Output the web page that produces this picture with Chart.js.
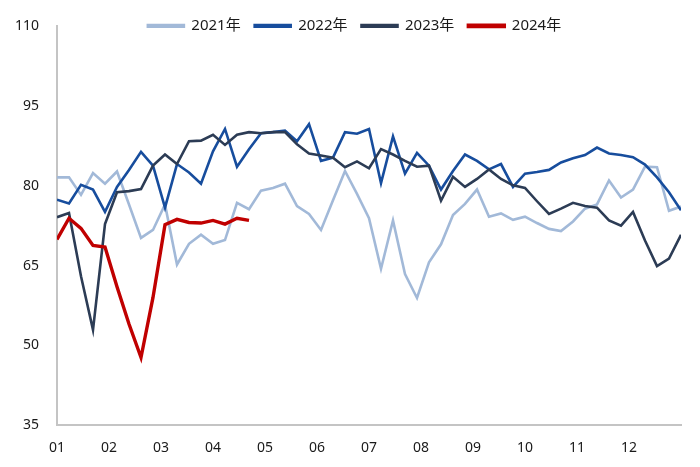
<!DOCTYPE html>
<html>
<head>
<meta charset="utf-8">
<script src="https://cdn.jsdelivr.net/npm/chart.js@4/dist/chart.umd.min.js"></script>
<style>
  html, body { margin: 0; padding: 0; background: #ffffff; }
  #wrap { width: 700px; height: 467px; }
</style>
</head>
<body>
<div id="wrap"><canvas id="c" width="700" height="467"></canvas></div>
<script>
// Month tick labels (x axis)
const monthLabels = ['01','02','03','04','05','06','07','08','09','10','11','12'];
// Series names
const seriesNames = ['2021年','2022年','2023年','2024年'];
// Weekly values (53 weeks)
const y2021 = [81.6,81.6,78.3,82.4,80.4,82.7,76.5,70.2,71.7,76.5,65.2,69.1,70.8,69.1,69.8,76.8,75.6,79.1,79.6,80.4,76.2,74.7,71.7,77.3,82.8,78.5,73.9,64.4,73.5,63.4,58.9,65.6,69.0,74.5,76.6,79.3,74.2,74.8,73.6,74.2,73.0,71.9,71.5,73.3,75.7,76.5,81.0,77.8,79.3,83.6,83.5,75.3,76.1];
const y2022 = [77.4,76.7,80.2,79.3,75.1,79.8,83.0,86.4,83.8,75.9,84.1,82.5,80.4,86.5,90.7,83.6,86.9,89.9,90.1,90.4,88.4,91.6,84.7,85.3,90.1,89.8,90.7,80.5,89.3,82.3,86.2,83.8,79.3,82.8,85.9,84.7,83.1,84.1,79.8,82.3,82.6,83.0,84.4,85.2,85.8,87.2,86.1,85.8,85.4,84.0,81.6,78.8,75.4];
const y2023 = [74.1,74.9,63.0,52.9,72.8,78.8,79.0,79.4,83.8,85.9,84.1,88.4,88.5,89.6,87.7,89.6,90.1,89.9,90.1,90.1,87.8,86.1,85.7,85.3,83.5,84.6,83.3,86.9,85.9,84.7,83.6,83.8,77.2,81.7,79.8,81.3,83.1,81.3,80.1,79.6,77.1,74.7,75.7,76.8,76.2,75.9,73.5,72.5,75.1,69.7,64.9,66.3,70.8];
const y2024 = [69.9,73.9,72.0,68.8,68.5,61.0,54.0,47.7,59.0,72.7,73.7,73.1,73.0,73.5,72.8,73.9,73.5];
// Y axis ticks
const yMin = 35, yMax = 110, yStep = 15;

const weeks = y2021.map((_, i) => i);
const nWeeks = weeks.length - 1;

const FONT = "'Noto Sans', 'Noto Sans CJK SC', sans-serif";

function ds(label, values, color, width, order) {
  return {
    label: label,
    data: values.map((v, i) => ({ x: weeks[i], y: v })),
    borderColor: color,
    backgroundColor: color,
    borderWidth: width,
    pointRadius: 0,
    pointHoverRadius: 0,
    tension: 0,
    fill: false,
    order: order,
    borderJoinStyle: 'miter'
  };
}

// Let the legend overlap the top of the plot area (as in the reference)
const legendOverlay = {
  id: 'legendOverlay',
  afterLayout(chart) {
    const lg = chart.legend;
    if (lg) {
      lg.top = lg.top - 2;
      lg.bottom = lg.top + 50;
      lg.height = 50;
      lg.left = lg.left + 14;
      lg.right = lg.right + 14;
    }
  }
};

new Chart(document.getElementById('c'), {
  type: 'line',
  data: {
    datasets: [
      ds(seriesNames[0], y2021, '#a2b9d8', 2.6, 3),
      ds(seriesNames[1], y2022, '#174d9d', 2.6, 2),
      ds(seriesNames[2], y2023, '#2c3c55', 2.6, 1),
      ds(seriesNames[3], y2024, '#c00000', 3.4, 0)
    ]
  },
  plugins: [legendOverlay],
  options: {
    responsive: false,
    animation: false,
    devicePixelRatio: 1,
    layout: { padding: { left: 0, right: 19, top: 0, bottom: 0 } },
    plugins: {
      tooltip: { enabled: false },
      legend: {
        display: true,
        position: 'top',
        align: 'center',
        maxHeight: 20,
        labels: {
          boxWidth: 36,
          boxHeight: 1.5,
          padding: 14,
          color: '#1a1a1a',
          font: { family: FONT, size: 15 },
          sort: (a, b) => a.datasetIndex - b.datasetIndex
        }
      }
    },
    scales: {
      x: {
        type: 'linear',
        min: 0,
        max: nWeeks,
        grid: { display: false, drawTicks: false },
        border: { display: true, color: '#c4c4c4', width: 2 },
        afterBuildTicks: (scale) => {
          scale.ticks = monthLabels.map((m, k) => ({ value: k * nWeeks / monthLabels.length }));
        },
        afterFit: (scale) => { scale.height = 42; },
        ticks: {
          autoSkip: false,
          maxRotation: 0,
          padding: 15,
          color: '#1a1a1a',
          font: { family: FONT, size: 14 },
          callback: (v, idx) => monthLabels[idx]
        }
      },
      y: {
        min: yMin,
        max: yMax,
        grid: { display: false, drawTicks: false },
        border: { display: true, color: '#c4c4c4', width: 2 },
        afterFit: (scale) => { scale.width = 57; },
        ticks: {
          stepSize: yStep,
          padding: 18,
          color: '#1a1a1a',
          font: { family: FONT, size: 14 }
        }
      }
    }
  }
});
</script>
</body>
</html>
